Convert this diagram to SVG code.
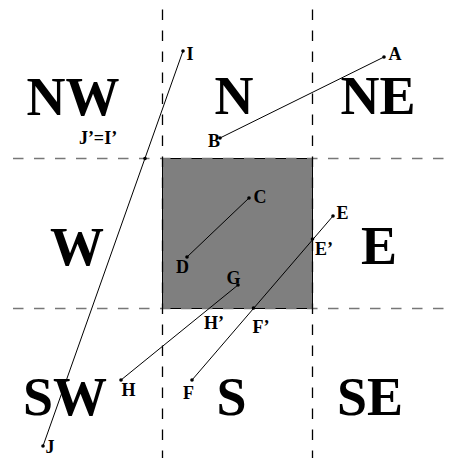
<svg xmlns="http://www.w3.org/2000/svg" width="454" height="458" viewBox="0 0 454 458">
<style>
.big{font-family:"Liberation Serif","Times New Roman",serif;font-weight:bold;font-size:54px;fill:#000;text-anchor:middle}
.lbl{font-family:"Liberation Serif","Times New Roman",serif;font-weight:bold;font-size:18px;fill:#000;text-anchor:middle}
.seg{stroke:#000;stroke-width:1;fill:none}
.hd{stroke:#777;stroke-width:1.3;stroke-dasharray:10.5 10.5;fill:none}
.vd{stroke:#000;stroke-width:1.3;stroke-dasharray:10.5 10.5;fill:none}
.dot{fill:#000}
</style>
<rect width="454" height="458" fill="#fff"/>
<g id="region-box">
<rect x="162.5" y="158.5" width="150" height="150" fill="#7f7f7f" stroke="#000" stroke-width="1"/>
</g>
<g id="grid">
<line class="hd" x1="13" y1="158.5" x2="454" y2="158.5"/>
<line class="hd" x1="13" y1="308.5" x2="454" y2="308.5"/>
<line class="vd" x1="162.5" y1="9.5" x2="162.5" y2="458"/>
<line class="vd" x1="312.5" y1="9.5" x2="312.5" y2="458"/>
</g>
<g id="regions">
<text class="big" x="73" y="115">NW</text>
<text class="big" x="234" y="114">N</text>
<text class="big" x="378" y="114">NE</text>
<text class="big" x="77" y="265">W</text>
<text class="big" x="379" y="264">E</text>
<text class="big" x="65" y="415">SW</text>
<text class="big" x="231.5" y="415">S</text>
<text class="big" x="370" y="415">SE</text>
</g>
<g id="connectors">
<line class="seg" x1="183" y1="51" x2="43" y2="446"/>
<line class="seg" x1="384" y1="57" x2="220" y2="138"/>
<line class="seg" x1="249" y1="198" x2="187" y2="257"/>
<line class="seg" x1="333" y1="216" x2="192" y2="380"/>
<line class="seg" x1="238" y1="285" x2="121" y2="380"/>
</g>
<g id="points">
<circle class="dot" cx="183" cy="51" r="1.8"/>
<circle class="dot" cx="43" cy="446" r="1.8"/>
<circle class="dot" cx="145" cy="158.5" r="1.8"/>
<circle class="dot" cx="384" cy="57" r="1.8"/>
<circle class="dot" cx="220" cy="138" r="1.8"/>
<circle class="dot" cx="249" cy="198" r="1.8"/>
<circle class="dot" cx="187" cy="257" r="1.8"/>
<circle class="dot" cx="333" cy="216" r="1.8"/>
<circle class="dot" cx="312.5" cy="239" r="1.8"/>
<circle class="dot" cx="253.5" cy="308" r="1.8"/>
<circle class="dot" cx="192" cy="380" r="1.8"/>
<circle class="dot" cx="238" cy="285" r="1.8"/>
<circle class="dot" cx="121" cy="380" r="1.8"/>
</g>
<g id="labels">
<text class="lbl" x="190" y="60">I</text>
<text class="lbl" x="395" y="60">A</text>
<text class="lbl" x="214" y="147">B</text>
<text class="lbl" x="98" y="144">J’=I’</text>
<text class="lbl" x="260" y="203">C</text>
<text class="lbl" x="182.5" y="273">D</text>
<text class="lbl" x="233.5" y="284">G</text>
<text class="lbl" x="342.5" y="219">E</text>
<text class="lbl" x="324" y="255">E’</text>
<text class="lbl" x="214" y="329">H’</text>
<text class="lbl" x="261" y="333">F’</text>
<text class="lbl" x="128.5" y="396">H</text>
<text class="lbl" x="188.5" y="399">F</text>
<text class="lbl" x="50" y="453">J</text>
</g>
</svg>
